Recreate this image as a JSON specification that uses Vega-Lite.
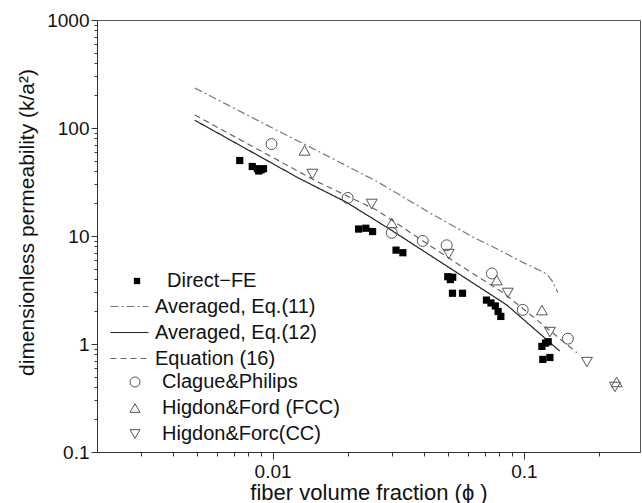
{
  "$schema": "https://vega.github.io/schema/vega-lite/v6.json",
  "autosize": {"type": "none"},
  "width": 543,
  "height": 432,
  "padding": {"left": 97, "top": 20, "right": 2, "bottom": 51},
  "background": "white",
  "config": {
    "view": {"stroke": "#555555", "strokeWidth": 1},
    "font": "Liberation Sans",
    "axis": {"grid": false, "ticks": true, "labelFont": "Liberation Sans", "titleFont": "Liberation Sans"},
    "legend": {"labelFont": "Liberation Sans"}
  },
  "datasets": {
    "lines": [
      {"series": "Averaged, Eq.(11)", "phi": 0.0049, "k": 235},
      {"series": "Averaged, Eq.(11)", "phi": 0.0107, "k": 92},
      {"series": "Averaged, Eq.(11)", "phi": 0.0154, "k": 60},
      {"series": "Averaged, Eq.(11)", "phi": 0.026, "k": 32},
      {"series": "Averaged, Eq.(11)", "phi": 0.0434, "k": 15.8},
      {"series": "Averaged, Eq.(11)", "phi": 0.0626, "k": 9.8},
      {"series": "Averaged, Eq.(11)", "phi": 0.08, "k": 7.4},
      {"series": "Averaged, Eq.(11)", "phi": 0.099, "k": 5.7},
      {"series": "Averaged, Eq.(11)", "phi": 0.1158, "k": 4.8},
      {"series": "Averaged, Eq.(11)", "phi": 0.124, "k": 4.4},
      {"series": "Averaged, Eq.(11)", "phi": 0.13, "k": 3.8},
      {"series": "Averaged, Eq.(11)", "phi": 0.1366, "k": 3.0},
      {"series": "Averaged, Eq.(12)", "phi": 0.0049, "k": 118},
      {"series": "Averaged, Eq.(12)", "phi": 0.0128, "k": 34},
      {"series": "Averaged, Eq.(12)", "phi": 0.0197, "k": 20.5},
      {"series": "Averaged, Eq.(12)", "phi": 0.0292, "k": 11.6},
      {"series": "Averaged, Eq.(12)", "phi": 0.0463, "k": 5.8},
      {"series": "Averaged, Eq.(12)", "phi": 0.0855, "k": 2.3},
      {"series": "Averaged, Eq.(12)", "phi": 0.139, "k": 0.86},
      {"series": "Equation (16)", "phi": 0.0049, "k": 132},
      {"series": "Equation (16)", "phi": 0.015, "k": 32},
      {"series": "Equation (16)", "phi": 0.0259, "k": 17.4},
      {"series": "Equation (16)", "phi": 0.054, "k": 5.6},
      {"series": "Equation (16)", "phi": 0.0825, "k": 3.0},
      {"series": "Equation (16)", "phi": 0.1127, "k": 1.67},
      {"series": "Equation (16)", "phi": 0.1626, "k": 0.83}
    ],
    "direct": [
      {"series": "Direct−FE", "phi": 0.0074, "k": 50},
      {"series": "Direct−FE", "phi": 0.0083, "k": 44},
      {"series": "Direct−FE", "phi": 0.0087, "k": 42},
      {"series": "Direct−FE", "phi": 0.009, "k": 41},
      {"series": "Direct−FE", "phi": 0.0088, "k": 40},
      {"series": "Direct−FE", "phi": 0.0092, "k": 42},
      {"series": "Direct−FE", "phi": 0.022, "k": 11.6},
      {"series": "Direct−FE", "phi": 0.0235, "k": 11.8},
      {"series": "Direct−FE", "phi": 0.025, "k": 11.0},
      {"series": "Direct−FE", "phi": 0.031, "k": 7.4},
      {"series": "Direct−FE", "phi": 0.033, "k": 7.0},
      {"series": "Direct−FE", "phi": 0.0498, "k": 4.2},
      {"series": "Direct−FE", "phi": 0.0521, "k": 4.15},
      {"series": "Direct−FE", "phi": 0.051, "k": 3.95},
      {"series": "Direct−FE", "phi": 0.052, "k": 2.95},
      {"series": "Direct−FE", "phi": 0.057, "k": 2.95},
      {"series": "Direct−FE", "phi": 0.071, "k": 2.55},
      {"series": "Direct−FE", "phi": 0.074, "k": 2.4},
      {"series": "Direct−FE", "phi": 0.077, "k": 2.25},
      {"series": "Direct−FE", "phi": 0.079, "k": 2.0},
      {"series": "Direct−FE", "phi": 0.081, "k": 1.8},
      {"series": "Direct−FE", "phi": 0.118, "k": 0.95},
      {"series": "Direct−FE", "phi": 0.122, "k": 1.02},
      {"series": "Direct−FE", "phi": 0.125, "k": 1.05},
      {"series": "Direct−FE", "phi": 0.119, "k": 0.72},
      {"series": "Direct−FE", "phi": 0.127, "k": 0.75}
    ],
    "open": [
      {"series": "Clague&Philips", "phi": 0.0099, "k": 71},
      {"series": "Clague&Philips", "phi": 0.0199, "k": 22.5},
      {"series": "Clague&Philips", "phi": 0.0298, "k": 10.7},
      {"series": "Clague&Philips", "phi": 0.0396, "k": 9.0},
      {"series": "Clague&Philips", "phi": 0.0493, "k": 8.2},
      {"series": "Clague&Philips", "phi": 0.0746, "k": 4.5},
      {"series": "Clague&Philips", "phi": 0.099, "k": 2.07},
      {"series": "Clague&Philips", "phi": 0.1497, "k": 1.12},
      {"series": "Higdon&Ford (FCC)", "phi": 0.0134, "k": 62},
      {"series": "Higdon&Ford (FCC)", "phi": 0.0298, "k": 13.2},
      {"series": "Higdon&Ford (FCC)", "phi": 0.078, "k": 3.9},
      {"series": "Higdon&Ford (FCC)", "phi": 0.118, "k": 2.06},
      {"series": "Higdon&Ford (FCC)", "phi": 0.234, "k": 0.445},
      {"series": "Higdon&Forc(CC)", "phi": 0.0144, "k": 37.5},
      {"series": "Higdon&Forc(CC)", "phi": 0.0248, "k": 19.8},
      {"series": "Higdon&Forc(CC)", "phi": 0.0502, "k": 6.8},
      {"series": "Higdon&Forc(CC)", "phi": 0.0863, "k": 2.97},
      {"series": "Higdon&Forc(CC)", "phi": 0.127, "k": 1.29},
      {"series": "Higdon&Forc(CC)", "phi": 0.1783, "k": 0.68},
      {"series": "Higdon&Forc(CC)", "phi": 0.2305, "k": 0.4}
    ]
  },
  "resolve": {
    "scale": {"shape": "independent"},
    "legend": {"shape": "independent"}
  },
  "encoding": {
    "x": {
      "field": "phi", "type": "quantitative", "scale": {"type": "log", "domain": [0.002, 0.29]},
      "axis": {
        "values": [0.003, 0.004, 0.005, 0.006, 0.007, 0.008, 0.009, 0.01, 0.02, 0.03, 0.04, 0.05, 0.06, 0.07, 0.08, 0.09, 0.1, 0.2],
        "format": "~g",
        "labelExpr": "datum.value == 0.01 || datum.value == 0.1 ? datum.label : ''",
        "tickSize": {"condition": {"test": "datum.value == 0.01 || datum.value == 0.1", "value": 7}, "value": 4},
        "labelPadding": 3, "labelFontSize": 19, "labelColor": "#111111", "labelFlush": false, "labelOverlap": false,
        "domainColor": "#333333", "tickColor": "#333333",
        "title": "fiber volume fraction (ϕ )", "titleFontSize": 22, "titleFontWeight": "normal", "titleColor": "#111111",
        "titleY": 47, "titleBaseline": "alphabetic"
      }
    },
    "y": {
      "field": "k", "type": "quantitative", "scale": {"type": "log", "domain": [0.1, 1000]},
      "axis": {
        "values": [0.1, 0.2, 0.3, 0.4, 0.5, 0.6, 0.7, 0.8, 0.9, 1, 2, 3, 4, 5, 6, 7, 8, 9, 10, 20, 30, 40, 50, 60, 70, 80, 90, 100, 200, 300, 400, 500, 600, 700, 800, 900, 1000],
        "format": "~g",
        "labelExpr": "datum.value == 0.1 || datum.value == 1 || datum.value == 10 || datum.value == 100 || datum.value == 1000 ? datum.label : ''",
        "tickSize": {"condition": {"test": "datum.value == 0.1 || datum.value == 1 || datum.value == 10 || datum.value == 100 || datum.value == 1000", "value": 6}, "value": 3},
        "labelPadding": 2, "labelFontSize": 19, "labelColor": "#111111", "labelFlush": false, "labelOverlap": false,
        "domainColor": "#333333", "tickColor": "#333333",
        "title": "dimensionless permeability (k/a²)", "titleFontSize": 21, "titleFontWeight": "normal", "titleColor": "#111111",
        "titleX": -64, "titleY": 202, "titleBaseline": "alphabetic", "titleAngle": -90
      }
    }
  },
  "layer": [
    {
      "data": {"name": "lines"},
      "mark": {"type": "line", "strokeWidth": 1.2},
      "encoding": {
        "color": {
          "field": "series", "type": "nominal",
          "scale": {"domain": ["Averaged, Eq.(11)", "Averaged, Eq.(12)", "Equation (16)"], "range": ["#777777", "#222222", "#666666"]},
          "legend": {
            "orient": "none", "legendX": 22, "legendY": 276, "padding": 0, "title": null,
            "symbolType": "M-2,0H2", "symbolSize": 361, "symbolStrokeWidth": 1.2,
            "labelFontSize": 20, "labelColor": "#111111", "labelOffset": 15, "rowPadding": 5, "labelLimit": 400
          }
        },
        "strokeDash": {
          "field": "series", "type": "nominal",
          "scale": {"domain": ["Averaged, Eq.(11)", "Averaged, Eq.(12)", "Equation (16)"], "range": [[8, 3, 2, 3], [1, 0], [6, 4]]},
          "legend": {
            "orient": "none", "legendX": 22, "legendY": 276, "padding": 0, "title": null,
            "symbolType": "M-2,0H2", "symbolSize": 361, "symbolStrokeWidth": 1.2,
            "labelFontSize": 20, "labelColor": "#111111", "labelOffset": 15, "rowPadding": 5, "labelLimit": 400
          }
        }
      }
    },
    {
      "data": {"name": "direct"},
      "mark": {"type": "point", "shape": "square", "filled": true, "color": "#000000", "opacity": 1, "size": 52},
      "encoding": {
        "shape": {
          "field": "series", "type": "nominal",
          "scale": {"domain": ["Direct−FE"], "range": ["square"]},
          "legend": {
            "orient": "none", "legendX": 30, "legendY": 251, "padding": 0, "title": null,
            "symbolSize": 40, "symbolFillColor": "#000000", "symbolStrokeColor": "#000000",
            "labelFontSize": 20, "labelColor": "#111111", "labelOffset": 20, "labelLimit": 400
          }
        }
      }
    },
    {
      "data": {"name": "open"},
      "mark": {"type": "point", "filled": false, "color": "#555555", "strokeWidth": 1, "opacity": 1, "size": 120},
      "encoding": {
        "shape": {
          "field": "series", "type": "nominal",
          "scale": {"domain": ["Clague&Philips", "Higdon&Ford (FCC)", "Higdon&Forc(CC)"], "range": ["circle", "triangle-up", "triangle-down"]},
          "legend": {
            "orient": "none", "legendX": 28, "legendY": 352, "padding": 0, "title": null,
            "symbolSize": 100, "symbolStrokeColor": "#555555", "symbolStrokeWidth": 1,
            "labelFontSize": 20, "labelColor": "#111111", "labelOffset": 17, "rowPadding": 6, "labelLimit": 400
          }
        }
      }
    }
  ]
}
